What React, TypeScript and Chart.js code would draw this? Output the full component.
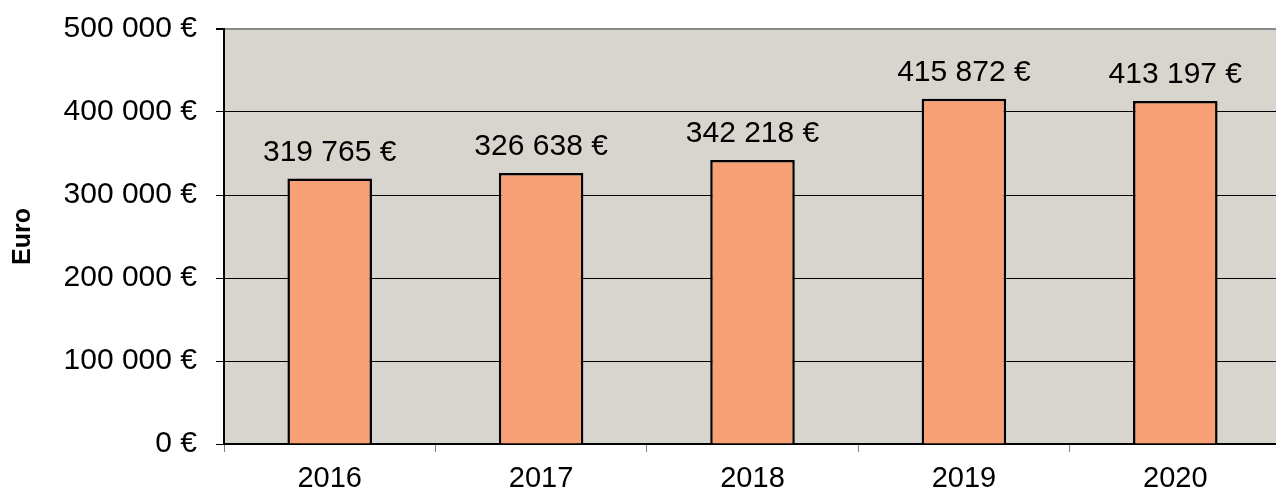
import React, { useEffect, useRef } from "react";
import { Chart, registerables } from "chart.js";

Chart.register(...registerables);

const categories = ["2016", "2017", "2018", "2019", "2020"];
const amounts = [319765, 326638, 342218, 415872, 413197];
const yTicks = [0, 100000, 200000, 300000, 400000, 500000];

const fmt = (n: number) =>
  Math.round(n).toString().replace(/\B(?=(\d{3})+(?!\d))/g, " ") + " €";

const FONT = "'Liberation Sans', Arial, sans-serif";
const SHIFT = 8;

export default function App() {
  const ref = useRef<HTMLCanvasElement | null>(null);

  useEffect(() => {
    if (!ref.current) return;
    const bgPlugin = {
      id: "plotBg",
      beforeDraw(chart: any) {
        const { ctx, chartArea } = chart;
        ctx.save();
        ctx.fillStyle = "#D8D5CE";
        ctx.fillRect(chartArea.left, chartArea.top, chartArea.right - chartArea.left, chartArea.bottom - chartArea.top);
        ctx.restore();
      },
    };
    const labelPlugin = {
      id: "valueLabels",
      afterDatasetsDraw(chart: any) {
        const { ctx, chartArea } = chart;
        const meta = chart.getDatasetMeta(0);
        const xs = chart.scales.x;
        ctx.save();
        ctx.fillStyle = "#000";
        ctx.textAlign = "center";
        ctx.textBaseline = "alphabetic";
        ctx.font = `30px ${FONT}`;
        meta.data.forEach((bar: any, i: number) => {
          ctx.fillText(fmt(amounts[i]), bar.x, bar.y - 18);
        });
        ctx.font = `29px ${FONT}`;
        categories.forEach((c, i) => {
          ctx.fillText(c, xs.getPixelForValue(i), chartArea.bottom + 43);
        });
        ctx.restore();
      },
    };
    const chart = new Chart(ref.current, {
      type: "bar",
      data: {
        labels: categories,
        datasets: [
          {
            data: amounts,
            backgroundColor: "#F7A076",
            borderColor: "#000",
            borderWidth: 2.5,
            borderSkipped: "bottom",
            barPercentage: 0.4,
            categoryPercentage: 1,
          },
        ],
      },
      options: {
        responsive: false,
        animation: false,
        layout: { padding: { top: 0, left: 0, right: 0, bottom: 0 } },
        plugins: { legend: { display: false }, tooltip: { enabled: false } },
        scales: {
          x: {
            grid: {
              drawOnChartArea: false,
              drawTicks: true,
              tickLength: 8,
              color: "#808080",
              offset: true,
            },
            border: { color: "#000", width: 2 },
            ticks: {
              color: "rgba(0,0,0,0)",
              font: { family: FONT, size: 29 },
            },
            afterFit(scale: any) {
              scale.height = 50;
            },
          },
          y: {
            min: 0,
            max: 500000,
            afterBuildTicks(scale: any) {
              scale.ticks = yTicks.map((v) => ({ value: v }));
            },
            grid: {
              color: (c: any) => (c.tick && c.tick.value === 500000 ? "#8A8A8A" : "#000"),
              lineWidth: (c: any) => (c.tick && c.tick.value === 500000 ? 2 : 1),
              tickLength: 8,
              tickColor: "#000",
            },
            border: { color: "#000", width: 2 },
            ticks: {
              color: "#000",
              font: { family: FONT, size: 30 },
              padding: 19,
              callback: (v: any) => fmt(Number(v)),
            },
            title: {
              display: true,
              text: "Euro",
              color: "#000",
              font: { family: FONT, size: 25, weight: "bold" },
              padding: { top: 8, bottom: 0 },
            },
            afterFit(scale: any) {
              scale.width = 224;
            },
          },
        },
      },
      plugins: [bgPlugin, labelPlugin],
    });
    return () => chart.destroy();
  }, []);

  return (
    <div style={{ position: "fixed", left: 0, top: 0, width: 1276, height: 494, overflow: "hidden", background: "#fff" }}>
      <canvas
        ref={ref}
        width={1281}
        height={494 + SHIFT}
        style={{ position: "absolute", left: 0, top: -SHIFT, display: "block" }}
      />
    </div>
  );
}
